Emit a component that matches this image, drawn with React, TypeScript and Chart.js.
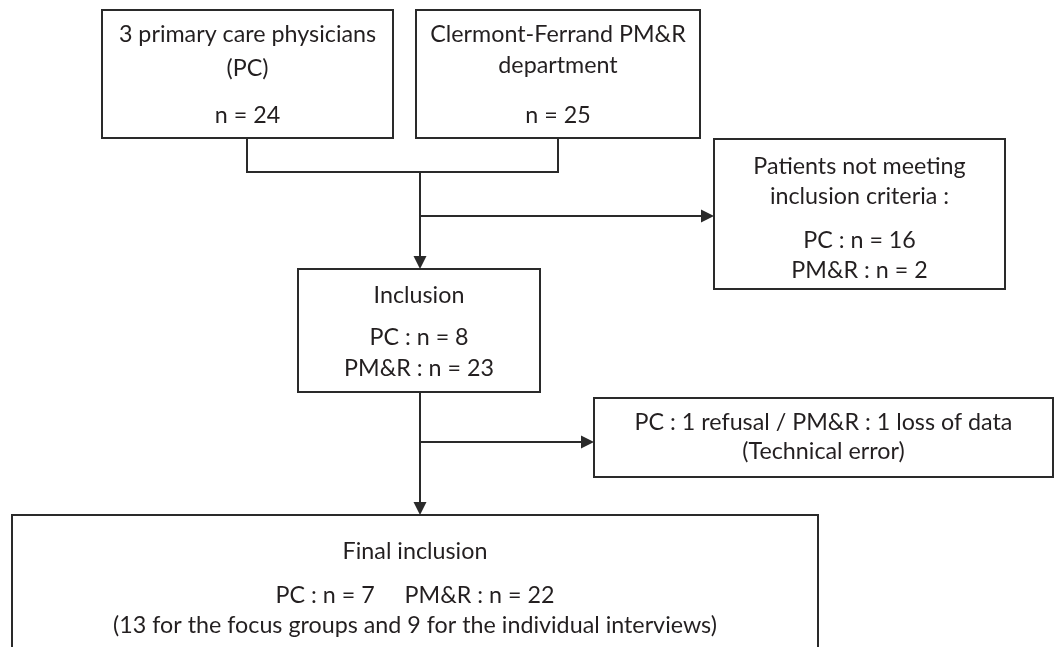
import React, { useEffect, useRef } from "react";
import { Chart, registerables } from "chart.js";

Chart.register(...registerables);

// ---- data ----
const groups = ["PC", "PM&R"];
const sourceNames = [
  ["3 primary care physicians", "(PC)"],
  ["Clermont-Ferrand PM&R", "department"],
];
const sourceCounts = [24, 25];
const excludedTitle = ["Patients not meeting", "inclusion criteria :"];
const excludedCounts = [16, 2];
const inclusionTitle = "Inclusion";
const inclusionCounts = [8, 23];
const lossText = ["PC : 1 refusal / PM&R : 1 loss of data", "(Technical error)"];
const finalTitle = "Final inclusion";
const finalCounts = [7, 22];
const finalSplit = [13, 9];

// ---- layout (chart units) ----
type Box = { x0: number; y0: number; x1: number; y1: number; lines: string[]; ys: number[] };

const boxes: Box[] = [
  { x0: 102, y0: 10, x1: 393, y1: 138, lines: [sourceNames[0][0], sourceNames[0][1], `n = ${sourceCounts[0]}`], ys: [34, 68, 115] },
  { x0: 416, y0: 10, x1: 700, y1: 138, lines: [sourceNames[1][0], sourceNames[1][1], `n = ${sourceCounts[1]}`], ys: [34, 65, 115] },
  {
    x0: 714, y0: 139, x1: 1005, y1: 289,
    lines: [excludedTitle[0], excludedTitle[1], `${groups[0]} : n = ${excludedCounts[0]}`, `${groups[1]} : n = ${excludedCounts[1]}`],
    ys: [166, 196, 240, 270],
  },
  {
    x0: 298, y0: 269, x1: 540, y1: 392,
    lines: [inclusionTitle, `${groups[0]} : n = ${inclusionCounts[0]}`, `${groups[1]} : n = ${inclusionCounts[1]}`],
    ys: [295, 337, 368],
  },
  { x0: 594, y0: 398, x1: 1053, y1: 477, lines: lossText, ys: [422, 451] },
  {
    x0: 12, y0: 515, x1: 818, y1: 680,
    lines: [
      finalTitle,
      `${groups[0]} : n = ${finalCounts[0]}     ${groups[1]} : n = ${finalCounts[1]}`,
      `(${finalSplit[0]} for the focus groups and ${finalSplit[1]} for the individual interviews)`,
    ],
    ys: [551, 595, 625],
  },
];

// polylines without arrows
const connectors: number[][][] = [
  [[247, 138], [247, 172], [558, 172], [558, 138]],
];
// arrows: from -> to (tip)
const arrows: number[][][] = [
  [[420, 172], [420, 269]],
  [[420, 216], [714, 216]],
  [[420, 392], [420, 515]],
  [[420, 442], [594, 442]],
];

const LINE = "#2a2a2a";
const TEXT = "#231f20";
const FONT_FAMILY = "Lato, 'Open Sans', sans-serif";
const WIDTH_REF = { text: lossText[0], width: 378 };

const flowPlugin = {
  id: "flow",
  afterDraw(chart: any) {
    const ctx = chart.ctx as CanvasRenderingContext2D;
    const sx = chart.scales.x;
    const sy = chart.scales.y;
    const px = (v: number) => sx.getPixelForValue(v);
    const py = (v: number) => sy.getPixelForValue(v);

    ctx.save();
    ctx.fillStyle = "#ffffff";
    ctx.fillRect(0, 0, chart.width, chart.height);

    ctx.strokeStyle = LINE;
    ctx.lineWidth = 2;
    ctx.lineCap = "butt";
    ctx.lineJoin = "miter";

    // boxes
    boxes.forEach((b) => {
      ctx.strokeRect(px(b.x0), py(b.y0), px(b.x1) - px(b.x0), py(b.y1) - py(b.y0));
    });

    // connectors
    connectors.forEach((pts) => {
      ctx.beginPath();
      pts.forEach((p, i) => (i === 0 ? ctx.moveTo(px(p[0]), py(p[1])) : ctx.lineTo(px(p[0]), py(p[1]))));
      ctx.stroke();
    });

    // arrows
    const headLen = 13;
    const headHalf = 6.5;
    ctx.fillStyle = LINE;
    arrows.forEach(([a, b]) => {
      const x0 = px(a[0]), y0 = py(a[1]), x1 = px(b[0]), y1 = py(b[1]);
      const dx = x1 - x0, dy = y1 - y0;
      const len = Math.hypot(dx, dy);
      const ux = dx / len, uy = dy / len;
      const bx = x1 - ux * headLen, by = y1 - uy * headLen;
      ctx.beginPath();
      ctx.moveTo(x0, y0);
      ctx.lineTo(bx, by);
      ctx.stroke();
      ctx.beginPath();
      ctx.moveTo(x1, y1);
      ctx.lineTo(bx - uy * headHalf, by + ux * headHalf);
      ctx.lineTo(bx + uy * headHalf, by - ux * headHalf);
      ctx.closePath();
      ctx.fill();
    });

    // text
    ctx.font = `20px ${FONT_FAMILY}`;
    const w20 = ctx.measureText(WIDTH_REF.text).width;
    const size = (20 * WIDTH_REF.width) / w20;
    ctx.font = `${size}px ${FONT_FAMILY}`;
    ctx.fillStyle = TEXT;
    ctx.textAlign = "center";
    ctx.textBaseline = "alphabetic";
    boxes.forEach((b) => {
      const cx = (px(b.x0) + px(b.x1)) / 2;
      b.lines.forEach((t, i) => {
        ctx.fillText(t, cx, py(b.ys[i]) + size * 0.36);
      });
    });
    ctx.restore();
  },
};

export default function App() {
  const ref = useRef<HTMLCanvasElement | null>(null);
  useEffect(() => {
    if (!ref.current) return;
    const chart = new Chart(ref.current, {
      type: "scatter",
      data: { datasets: [{ data: [] }] },
      options: {
        animation: false,
        responsive: false,
        events: [],
        layout: { padding: 0 },
        plugins: { legend: { display: false }, tooltip: { enabled: false } },
        scales: {
          x: { type: "linear", min: 0, max: 1055, display: false },
          y: { type: "linear", min: 0, max: 647, reverse: true, display: false },
        },
      },
      plugins: [flowPlugin],
    });
    return () => chart.destroy();
  }, []);
  return (
    <div style={{ position: "fixed", left: 0, top: 0, width: 1055, height: 647, background: "#fff" }}>
      <canvas ref={ref} width={1055} height={647} style={{ display: "block" }} />
    </div>
  );
}
